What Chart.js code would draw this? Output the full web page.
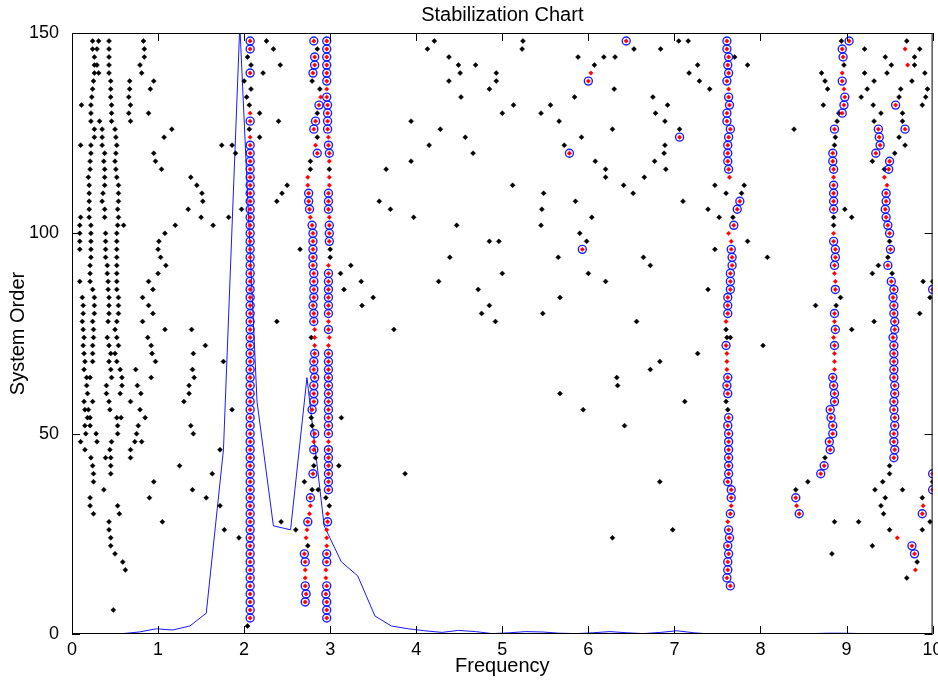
<!DOCTYPE html>
<html>
<head>
<meta charset="utf-8">
<script src="https://cdn.jsdelivr.net/npm/chart.js@4.4.1/dist/chart.umd.min.js"></script>
<style>
  html, body { margin: 0; padding: 0; background: #fff; }
</style>
</head>
<body>
<canvas id="myChart" width="938" height="680"></canvas>
<script>
var chartTitle = 'Stabilization Chart';
var xTicks = [0, 1, 2, 3, 4, 5, 6, 7, 8, 9, 10];
var yTicks = [0, 50, 100, 150];

// spectrum (blue line)
var specFreq = [0, 0.2, 0.39, 0.59, 0.78, 0.98, 1.17, 1.37, 1.56, 1.76, 1.95, 2.15, 2.34, 2.54, 2.73, 2.93, 3.13, 3.32, 3.52, 3.71,
  3.91, 4.1, 4.3, 4.49, 4.69, 4.88, 5.08, 5.27, 5.47, 5.66, 5.86, 6.05, 6.25, 6.45, 6.64, 6.84, 7.03, 7.23, 7.42, 7.62,
  7.81, 8.01, 8.2, 8.4, 8.59, 8.79, 8.98, 9.18, 9.38, 9.57, 9.77, 9.96, 10];
var specAmp = [0, 0, 0, 0.1, 0.5, 1.3, 1.0, 2.0, 5.2, 46, 152, 58, 27, 26, 64, 27, 18, 14.5, 4.5, 2,
  1.3, 0.8, 0.4, 0.9, 0.6, 0.1, 0.3, 0.6, 0.5, 0.2, 0.1, 0.3, 0.6, 0.3, 0.1, 0.4, 0.8, 0.3, 0, 0,
  0, 0, 0, 0, 0.1, 0.2, 0.2, 0.1, 0.1, 0, 0, 0, 0];

// stable columns: first order, frequency per order (step 2), kind per order
// c = stable (circle + red), r = frequency stable (red), b = new pole (black), . = none
var colAStart = 4;
var colAFreq = [2.07, 2.07, 2.07, 2.07, 2.07, 2.07, 2.07, 2.07, 2.07, 2.07,
  2.07, 2.07, 2.07, 2.07, 2.07, 2.07, 2.07, 2.07, 2.07, 2.07,
  2.07, 2.07, 2.07, 2.07, 2.07, 2.07, 2.07, 2.07, 2.07, 2.07,
  2.07, 2.07, 2.07, 2.07, 2.07, 2.07, 2.07, 2.07, 2.07, 2.07,
  2.07, 2.07, 2.07, 2.07, 2.07, 2.07, 2.07, 2.07, 2.07, 2.07,
  2.07, 2.07, 2.07, 2.07, 2.07, 2.07, 2.07, 2.07, 2.07, 2.07,
  2.07, 2.06, 2.07, 2.07, 2.06, 2.03, 2.08, 2.00, 2.07, 2.08,
  2.04, 2.07, 2.07];
var colAKind = 'cccccccccccccccccccccccccccccccccccccccccccccccccccccccccccc' + 'rbcrbbbbcbbcc';

var colBStart = 8;
var colBFreq = [2.71, 2.72, 2.71, 2.71, 2.71, 2.71, 2.70, 2.74, 2.72, 2.73,
  2.74, 2.76, 2.77, 2.77, 2.79, 2.70, 2.80, 2.81, 2.83, 2.81,
  2.81, 2.82, 2.79, 2.78, 2.79, 2.81, 2.81, 2.81, 2.82, 2.81,
  2.81, 2.82, 2.82, 2.82, 2.82, 2.81, 2.81, 2.80, 2.81, 2.81,
  2.81, 2.81, 2.80, 2.80, 2.80, 2.80, 2.80, 2.79, 2.77, 2.76,
  2.75, 2.75, 2.74, 2.74, 2.77, 2.77, 2.85, 2.83, 2.85, 2.81,
  2.83, 2.85, 2.87, 2.89, 2.88, 2.79, 2.80, 2.82, 2.82, 2.85,
  2.81];
var colBKind = 'cccrrccbrr' + 'crrcbbcbbc' + 'rcbbcccccc' + 'ccrrrccccc' + 'ccccccccrc' + 'ccrrbbcrbc' + 'cbcrbbcccb' + 'c';

var colCStart = 4;
var colCFreq = [2.96, 2.96, 2.96, 2.95, 2.96, 2.95, 2.95, 2.96, 2.96, 2.96,
  2.96, 2.96, 2.97, 2.97, 2.99, 2.95, 2.98, 2.98, 2.98, 2.98,
  2.98, 2.98, 2.98, 2.98, 2.98, 2.98, 2.98, 2.98, 2.98, 2.98,
  2.98, 2.98, 2.98, 2.98, 2.98, 2.99, 2.98, 2.98, 2.98, 2.98,
  2.98, 2.98, 2.98, 2.98, 2.98, 3.00, 3.00, 2.99, 2.99, 2.99,
  2.99, 2.98, 2.98, 2.98, 2.99, 2.99, 2.99, 2.99, 2.99, 2.98,
  2.98, 2.97, 2.97, 2.97, 2.97, 2.96, 2.96, 2.96, 2.96, 2.96,
  2.96, 2.96, 2.96];
var colCKind = 'cccccrrccr' + 'rrcrbbcccc' + 'ccrccccccc' + 'ccccrrcrcc' + 'ccccrbbccc' + 'rcccrrbrcc' + 'rcccccrccc' + 'ccc';

var colDStart = 12;
var colDFreq = [7.65, 7.61, 7.62, 7.62, 7.63, 7.62, 7.64, 7.63, 7.62, 7.65,
  7.66, 7.66, 7.66, 7.62, 7.63, 7.63, 7.63, 7.63, 7.63, 7.63,
  7.62, 7.63, 7.62, 7.60, 7.62, 7.61, 7.62, 7.61, 7.61, 7.61,
  7.60, 7.61, 7.60, 7.60, 7.62, 7.62, 7.62, 7.65, 7.65, 7.65,
  7.67, 7.67, 7.66, 7.66, 7.63, 7.69, 7.68, 7.73, 7.76, 7.60,
  7.81, 7.64, 7.63, 7.62, 7.62, 7.62, 7.63, 7.65, 7.61, 7.61,
  7.64, 7.63, 7.63, 7.61, 7.63, 7.62, 7.63, 7.61, 7.61];
var colDKind = 'ccccccccrc' + 'rccccccccc' + 'ccbbcccrrr' + 'cbbrcccccc' + 'cccrrcbccb' + 'brcccccccc' + 'ccrcccccc';

var colEStart = 30;
var colEFreq = [8.45, 8.42, 8.41, 8.41, 8.55, 8.70, 8.74, 8.75, 8.81, 8.80,
  8.84, 8.84, 8.82, 8.81, 8.86, 8.86, 8.85, 8.84, 8.86, 8.86,
  8.86, 8.86, 8.85, 8.87, 8.86, 8.86, 8.88, 8.93, 8.87, 8.87,
  8.86, 8.86, 8.87, 8.87, 8.85, 8.85, 8.85, 8.85, 8.85, 8.85,
  8.85, 8.85, 8.85, 8.85, 8.84, 8.84, 8.86, 8.87, 8.86, 8.89,
  8.95, 8.97, 8.98, 8.97, 8.95, 8.95, 8.97, 8.96, 8.95, 9.03];
var colEKind = 'crcbbccbcc' + 'ccccccccrr' + 'rcrcrcbbcr' + 'rccccrbbcc' + 'ccrcccbbcb' + 'cccrcrbccc';

var colFStart = 14;
var colFFreq = [9.70, 9.80, 9.82, 9.79, 9.76, 9.59, 9.50, 9.50, 9.43, 9.40,
  9.45, 9.33, 9.42, 9.50, 9.50, 9.55, 9.56, 9.55, 9.55, 9.56,
  9.56, 9.55, 9.55, 9.56, 9.56, 9.55, 9.55, 9.55, 9.55, 9.55,
  9.54, 9.56, 9.56, 9.55, 9.55, 9.54, 9.55, 9.52, 9.53, 9.48,
  9.48, 9.51, 9.50, 9.50, 9.48, 9.46, 9.45, 9.46, 9.46, 9.47,
  9.44, 9.49, 9.50, 9.34, 9.39, 9.38, 9.37, 9.32, 9.40, 9.57];
var colFKind = 'brbccrb.bb' + 'bbbbbccccc' + 'cccccccccc' + 'ccccccccbc' + 'bcbccccccr' + 'rccccccbbc';

// lone stable poles [freq, order]
var loneStable = [[5.78, 120], [5.93, 96], [6.44, 148], [6.00, 138], [7.06, 124], [9.68, 126],
  [9.88, 30], [10.0, 36], [10.0, 40], [10.0, 86]];
var loneRed = [[6.03, 140], [9.89, 32], [9.68, 146], [9.71, 142]];

// remaining poles, one row per order: [order, freq, freq, ...]
var blackLeft = [
  [148, 0.24, 0.31, 0.43, 0.83], [146, 0.24, 0.29, 0.43, 0.84], [144, 0.26, 0.43, 0.84],
  [142, 0.26, 0.29, 0.43, 0.79], [140, 0.26, 0.31, 0.43, 0.81], [138, 0.25, 0.45, 0.67, 0.95],
  [136, 0.24, 0.45, 0.67, 0.91], [134, 0.23, 0.45, 0.66], [132, 0.11, 0.22, 0.46, 0.68],
  [130, 0.22, 0.46, 0.66, 0.89], [128, 0.22, 0.32, 0.46, 0.68], [126, 0.26, 0.35, 0.50, 1.16],
  [124, 0.26, 0.35, 0.51, 1.07], [122, 0.10, 0.22, 0.35, 0.52, 1.74, 1.86], [120, 0.22, 0.38, 0.51, 0.95, 1.90],
  [118, 0.21, 0.37, 0.50, 0.97], [116, 0.21, 0.38, 0.51, 1.04], [114, 0.19, 0.38, 0.52, 1.38],
  [112, 0.20, 0.38, 0.54, 1.45], [110, 0.20, 0.36, 0.54, 1.51], [108, 0.20, 0.35, 0.54, 1.52],
  [106, 0.20, 0.38, 0.53, 1.35, 1.97], [104, 0.10, 0.20, 0.38, 0.54, 1.50, 1.82],
  [102, 0.09, 0.22, 0.53, 0.60, 1.20, 1.64], [100, 0.09, 0.22, 0.39, 0.52, 1.08],
  [98, 0.09, 0.22, 0.39, 0.52, 1.01], [96, 0.09, 0.22, 0.39, 0.52, 1.00], [94, 0.22, 0.39, 0.52, 1.03],
  [92, 0.21, 0.41, 0.52, 1.09], [90, 0.21, 0.41, 0.52, 1.00], [88, 0.09, 0.21, 0.42, 0.52, 0.89],
  [86, 0.24, 0.42, 0.52, 0.94], [84, 0.12, 0.26, 0.43, 0.54, 0.82], [82, 0.13, 0.26, 0.43, 0.54, 0.89],
  [80, 0.13, 0.26, 0.43, 0.54, 0.94], [78, 0.12, 0.24, 0.42, 0.52, 0.82], [76, 0.13, 0.25, 0.50, 1.08, 1.39],
  [74, 0.14, 0.25, 0.41, 0.52, 0.88], [72, 0.13, 0.24, 0.43, 0.54, 0.92, 1.55],
  [70, 0.14, 0.24, 0.45, 0.50, 0.93, 1.41], [68, 0.15, 0.24, 0.43, 0.52, 0.97, 1.76],
  [66, 0.14, 0.45, 0.56, 0.74, 1.40], [64, 0.17, 0.21, 0.46, 0.58, 0.92, 1.42],
  [62, 0.17, 0.40, 0.58, 0.76, 1.36], [60, 0.18, 0.40, 0.56, 0.80, 1.36], [58, 0.14, 0.24, 0.43, 0.68, 1.30],
  [56, 0.15, 0.19, 0.44, 0.79, 1.86], [54, 0.18, 0.21, 0.52, 0.57, 0.85], [52, 0.15, 0.21, 0.53, 0.77, 1.38],
  [50, 0.16, 0.28, 0.53, 0.75, 1.41], [48, 0.10, 0.29, 0.46, 0.73, 0.81], [46, 0.15, 0.44, 0.68, 1.72],
  [44, 0.22, 0.39, 0.45, 0.68], [42, 0.24, 0.45, 1.25], [40, 0.25, 0.45, 1.63], [38, 0.25, 0.95],
  [36, 0.37, 1.40], [34, 0.21, 0.90, 1.56], [32, 0.21, 0.53, 1.72], [30, 0.25, 0.55], [28, 0.43, 1.05],
  [26, 0.43, 1.77], [24, 0.45, 1.94], [22, 0.45], [20, 0.50], [18, 0.59], [16, 0.62], [6, 0.48], [2, 2.04]
];
var blackMid = [
  [148, 2.26, 4.21, 5.24, 7.05, 7.16], [146, 2.34, 4.13, 5.23, 6.53, 6.84], [144, 4.38, 5.88, 6.18, 6.31],
  [142, 2.42, 4.49, 4.69, 6.07, 7.27], [140, 2.22, 4.51, 4.93, 7.17], [138, 4.38, 4.93, 7.29],
  [136, 4.85, 6.30, 7.41], [134, 4.52, 5.84, 6.75], [132, 5.13, 5.56, 6.92], [130, 2.18, 5.00, 5.45, 6.78],
  [128, 2.40, 3.94, 5.66, 6.89], [126, 4.28, 6.28, 7.06], [124, 2.18, 4.57, 5.92], [122, 4.15, 5.72, 6.89],
  [120, 4.66, 6.88], [118, 3.94, 6.08, 6.77], [116, 3.65, 6.20, 6.90], [114, 6.20, 6.65],
  [112, 2.50, 5.12, 6.41, 7.47], [110, 2.44, 5.48, 6.52, 7.78], [108, 2.38, 3.57, 5.85, 7.10],
  [106, 3.70, 5.46, 7.39], [104, 3.97, 6.04, 7.52], [102, 4.47, 5.45], [100, 5.90],
  [98, 4.85, 4.96, 5.98, 7.85], [96, 2.65, 7.47], [94, 4.39, 5.65, 6.64, 8.08], [92, 3.24, 6.72],
  [90, 3.12, 5.00, 6.00], [88, 3.36, 4.26, 6.20], [86, 3.16, 4.72, 7.39], [84, 3.50, 5.67], [82, 3.37, 4.85],
  [80, 4.76, 5.47], [78, 2.38, 4.92, 6.56], [76, 3.74], [74, 2.78, 7.65], [72, 8.03], [70, 7.27], [68, 6.83],
  [66, 6.72], [64, 6.33], [62, 6.34], [60, 5.67], [58, 7.12], [56, 5.94], [54, 3.13], [52, 6.42],
  [42, 3.10], [40, 3.87], [38, 6.83], [36, 2.86], [28, 2.43], [26, 2.60, 6.98], [24, 6.28]
];
var blackRight = [
  [148, 8.94, 9.70], [146, 9.21, 9.85], [144, 7.70, 9.45, 9.79], [142, 7.85, 9.52, 9.79],
  [140, 8.71, 9.21, 9.47, 9.91], [138, 8.75, 9.32, 9.76], [136, 8.78, 9.24, 9.63, 9.94],
  [134, 9.17, 9.61, 9.92], [132, 8.73, 9.31, 9.88], [130, 8.91, 9.65], [128, 9.65], [126, 8.39],
  [124, 9.61], [122, 9.68], [120, 9.56], [118, 9.30], [116, 9.44], [106, 8.98], [104, 9.06],
  [92, 9.37], [90, 9.30], [88, 9.89, 10.0], [84, 9.97], [82, 8.64], [80, 9.85], [78, 9.32], [76, 9.06],
  [38, 10.0], [36, 9.65], [34, 9.88], [28, 8.86, 9.14, 9.97], [26, 9.88], [22, 9.30], [20, 8.83]
];

var stablePts = [], redPts = [], blackPts = [];

function addColumn(start, freqs, kinds) {
  for (var i = 0; i < freqs.length; i++) {
    var pt = { x: freqs[i], y: start + 2 * i };
    var k = kinds.charAt(i);
    if (k === 'c') { stablePts.push(pt); redPts.push(pt); }
    else if (k === 'r') redPts.push(pt);
    else if (k === 'b') blackPts.push(pt);
  }
}
function addRows(rows) {
  rows.forEach(function (r) {
    for (var j = 1; j < r.length; j++) blackPts.push({ x: r[j], y: r[0] });
  });
}

addColumn(colAStart, colAFreq, colAKind);
addColumn(colBStart, colBFreq, colBKind);
addColumn(colCStart, colCFreq, colCKind);
addColumn(colDStart, colDFreq, colDKind);
addColumn(colEStart, colEFreq, colEKind);
addColumn(colFStart, colFFreq, colFKind);
loneStable.forEach(function (p) { stablePts.push({ x: p[0], y: p[1] }); redPts.push({ x: p[0], y: p[1] }); });
loneRed.forEach(function (p) { redPts.push({ x: p[0], y: p[1] }); });
addRows(blackLeft);
addRows(blackMid);
addRows(blackRight);

var specPts = specFreq.map(function (f, i) { return { x: f, y: specAmp[i] }; });

var font = 'Liberation Sans, Arial, sans-serif';

// box with inward ticks on all four sides, plus the title
var boxPlugin = {
  id: 'box',
  afterDraw: function (chart) {
    var a = chart.chartArea, c = chart.ctx;
    var xs = chart.scales.x, ys = chart.scales.y;
    c.save();
    c.strokeStyle = '#000';
    c.lineWidth = 1;
    c.strokeRect(a.left + 0.5, a.top + 0.5, a.right - a.left - 1, a.bottom - a.top - 1);
    c.beginPath();
    xTicks.forEach(function (v) {
      var px = Math.round(xs.getPixelForValue(v)) + 0.5;
      c.moveTo(px, a.bottom); c.lineTo(px, a.bottom - 8);
      c.moveTo(px, a.top); c.lineTo(px, a.top + 8);
    });
    yTicks.forEach(function (v) {
      var py = Math.round(ys.getPixelForValue(v)) + 0.5;
      c.moveTo(a.left, py); c.lineTo(a.left + 8, py);
      c.moveTo(a.right, py); c.lineTo(a.right - 8, py);
    });
    c.stroke();
    c.fillStyle = '#000';
    c.font = '20px ' + font;
    c.textAlign = 'center';
    c.textBaseline = 'alphabetic';
    c.fillText(chartTitle, (a.left + a.right) / 2, 21);
    c.restore();
  }
};

var ctx = document.getElementById('myChart').getContext('2d');
new Chart(ctx, {
  type: 'scatter',
  data: {
    datasets: [
      {
        label: 'stable freq',
        data: redPts,
        pointStyle: 'rectRot',
        pointRadius: 2.2,
        backgroundColor: '#ff0000',
        borderColor: '#ff0000',
        borderWidth: 0.5,
        clip: 0
      },
      {
        label: 'stable',
        data: stablePts,
        pointStyle: 'circle',
        pointRadius: 4,
        backgroundColor: 'rgba(0,0,0,0)',
        borderColor: 'rgba(20,20,255,0.95)',
        borderWidth: 1.4,
        clip: 0
      },
      {
        label: 'new',
        data: blackPts,
        pointStyle: 'rectRot',
        pointRadius: 2.5,
        backgroundColor: '#000',
        borderColor: '#000',
        borderWidth: 0.5,
        clip: 0
      },
      {
        label: 'spectrum',
        type: 'line',
        data: specPts,
        showLine: true,
        pointRadius: 0,
        borderColor: '#1a1aff',
        borderWidth: 1,
        tension: 0,
        fill: false,
        clip: 0
      }
    ]
  },
  options: {
    responsive: false,
    animation: false,
    layout: { padding: { top: 33, right: 4, left: 0, bottom: 0 } },
    plugins: {
      legend: { display: false },
      tooltip: { enabled: false },
      title: { display: false }
    },
    scales: {
      x: {
        type: 'linear',
        min: 0,
        max: 10,
        afterBuildTicks: function (s) { s.ticks = xTicks.map(function (v) { return { value: v }; }); },
        afterFit: function (s) { s.height = 46; s.paddingLeft = 0; s.paddingRight = 0; },
        grid: { display: false },
        border: { display: false },
        ticks: { autoSkip: false, maxRotation: 0, padding: -3, color: '#000', font: { family: font, size: 18 } },
        title: { display: true, text: 'Frequency', color: '#000', font: { family: font, size: 20 }, padding: { top: 0, bottom: 2 } }
      },
      y: {
        type: 'linear',
        min: 0,
        max: 150,
        afterBuildTicks: function (s) { s.ticks = yTicks.map(function (v) { return { value: v }; }); },
        afterFit: function (s) { s.width = 72; s.paddingTop = 0; s.paddingBottom = 0; },
        grid: { display: false },
        border: { display: false },
        ticks: { autoSkip: false, padding: 5, color: '#000', font: { family: font, size: 18 } },
        title: { display: true, text: 'System Order', color: '#000', font: { family: font, size: 20 }, padding: { top: 6, bottom: 0 } }
      }
    }
  },
  plugins: [boxPlugin]
});
</script>
</body>
</html>
